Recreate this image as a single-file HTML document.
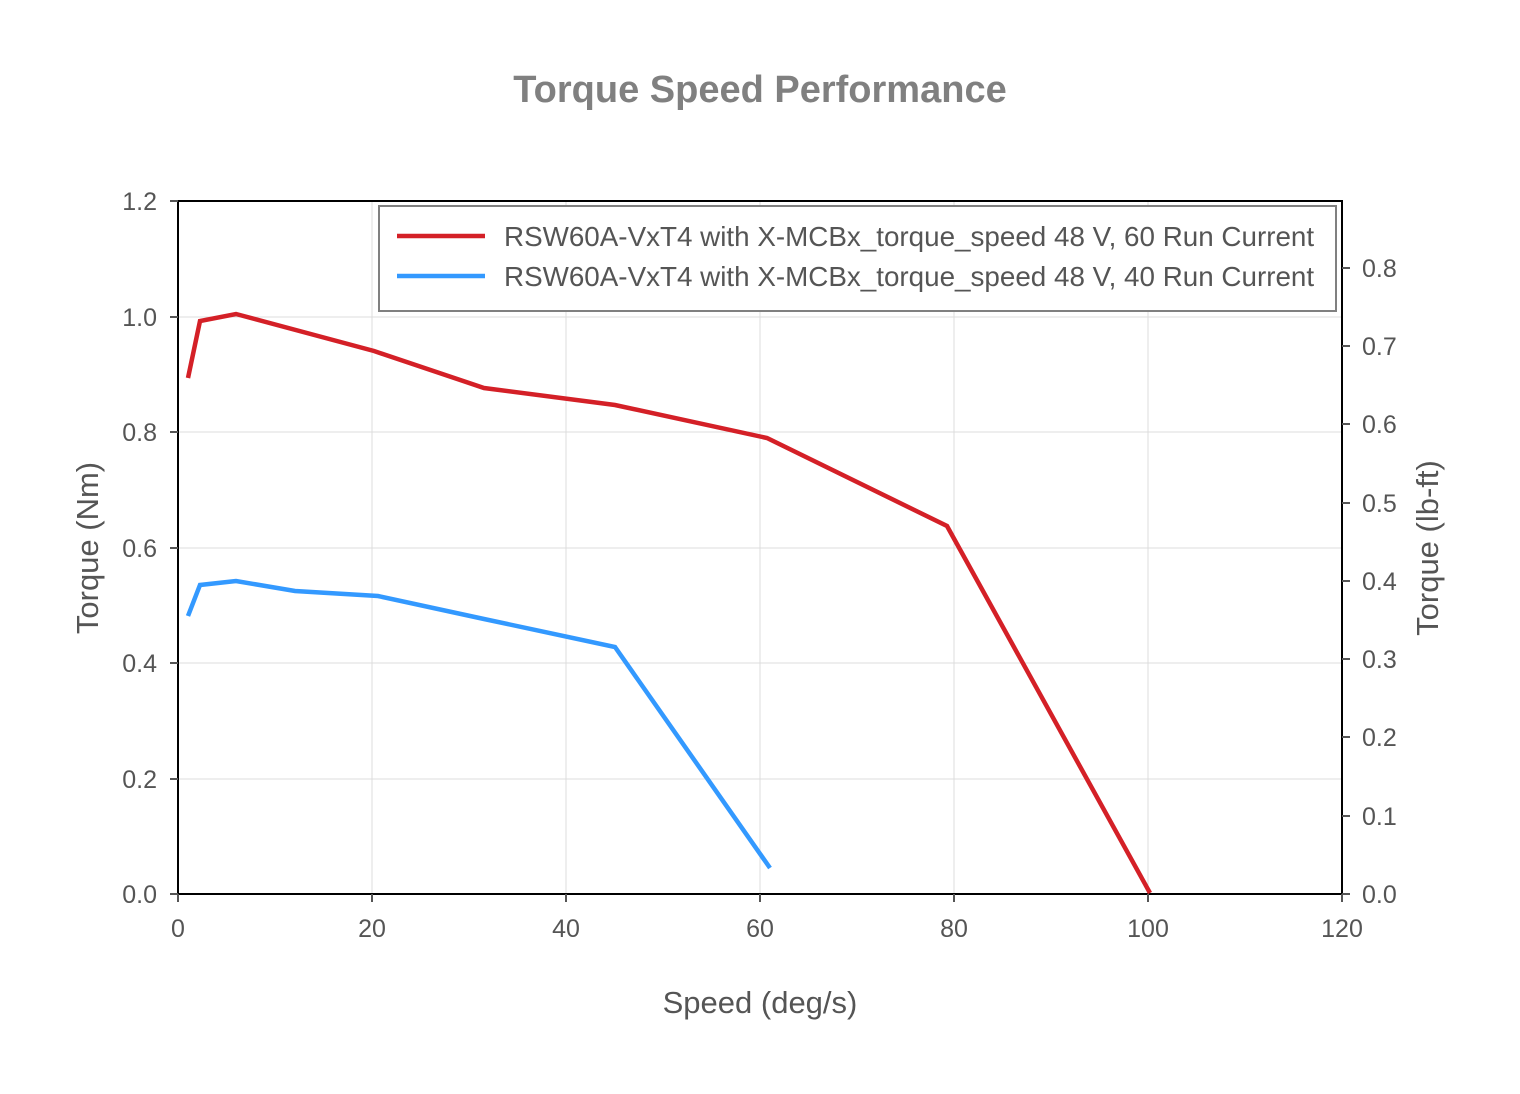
<!DOCTYPE html><html><head><style>body{margin:0;background:#fff}svg{display:block}</style></head><body>
<svg width="1520" height="1094" xmlns="http://www.w3.org/2000/svg" font-family="Liberation Sans, Arial, sans-serif">
<rect width="1520" height="1094" fill="#fff"/>
<text x="760" y="102" text-anchor="middle" font-size="38" font-weight="bold" fill="#808080">Torque Speed Performance</text>
<g stroke="#dcdcdc" stroke-width="1">
<line x1="372" y1="201" x2="372" y2="894"/><line x1="566" y1="201" x2="566" y2="894"/><line x1="760" y1="201" x2="760" y2="894"/><line x1="954" y1="201" x2="954" y2="894"/><line x1="1148" y1="201" x2="1148" y2="894"/>
<line x1="178" y1="779" x2="1342" y2="779"/><line x1="178" y1="663" x2="1342" y2="663"/><line x1="178" y1="548" x2="1342" y2="548"/><line x1="178" y1="432" x2="1342" y2="432"/><line x1="178" y1="317" x2="1342" y2="317"/>
</g>
<g stroke="#000" stroke-width="2" fill="none">
<line x1="178" y1="201" x2="1342" y2="201"/><line x1="178" y1="200" x2="178" y2="895"/><line x1="1342" y1="200" x2="1342" y2="895"/><line x1="177" y1="894" x2="1343" y2="894"/>
</g>
<g stroke="#555" stroke-width="2">
<line x1="170" y1="894" x2="178" y2="894"/><line x1="170" y1="779" x2="178" y2="779"/><line x1="170" y1="663" x2="178" y2="663"/><line x1="170" y1="548" x2="178" y2="548"/><line x1="170" y1="432" x2="178" y2="432"/><line x1="170" y1="317" x2="178" y2="317"/><line x1="170" y1="201" x2="178" y2="201"/>
<line x1="178" y1="894" x2="178" y2="902"/><line x1="372" y1="894" x2="372" y2="902"/><line x1="566" y1="894" x2="566" y2="902"/><line x1="760" y1="894" x2="760" y2="902"/><line x1="954" y1="894" x2="954" y2="902"/><line x1="1148" y1="894" x2="1148" y2="902"/><line x1="1342" y1="894" x2="1342" y2="902"/>
<line x1="1342" y1="894" x2="1350" y2="894"/><line x1="1342" y1="816" x2="1350" y2="816"/><line x1="1342" y1="737" x2="1350" y2="737"/><line x1="1342" y1="659" x2="1350" y2="659"/><line x1="1342" y1="581" x2="1350" y2="581"/><line x1="1342" y1="503" x2="1350" y2="503"/><line x1="1342" y1="424" x2="1350" y2="424"/><line x1="1342" y1="346" x2="1350" y2="346"/><line x1="1342" y1="268" x2="1350" y2="268"/>
</g>
<g font-size="25" fill="#555" text-anchor="end">
<text x="157" y="903">0.0</text><text x="157" y="788">0.2</text><text x="157" y="672">0.4</text><text x="157" y="557">0.6</text><text x="157" y="441">0.8</text><text x="157" y="326">1.0</text><text x="157" y="210">1.2</text>
</g>
<g font-size="25" fill="#555">
<text x="1362" y="903">0.0</text><text x="1362" y="825">0.1</text><text x="1362" y="746">0.2</text><text x="1362" y="668">0.3</text><text x="1362" y="590">0.4</text><text x="1362" y="512">0.5</text><text x="1362" y="433">0.6</text><text x="1362" y="355">0.7</text><text x="1362" y="277">0.8</text>
</g>
<g font-size="25" fill="#555" text-anchor="middle">
<text x="178" y="937">0</text><text x="372" y="937">20</text><text x="566" y="937">40</text><text x="760" y="937">60</text><text x="954" y="937">80</text><text x="1148" y="937">100</text><text x="1342" y="937">120</text>
<text x="760" y="1013" font-size="31">Speed (deg/s)</text>
<text transform="translate(98,548) rotate(-90)" font-size="31">Torque (Nm)</text>
<text transform="translate(1438,548) rotate(-90)" font-size="31">Torque (lb-ft)</text>
</g>
<polyline fill="none" stroke="#d42027" stroke-width="4.5" points="188,378 200,321 236,314 374,351 484,388 615,405 767,438 947,526 1150,893"/>
<polyline fill="none" stroke="#3399ff" stroke-width="4.5" points="188,616 200,585 236,581 295,591 378,596 484,619 615,647 770,868"/>
<rect x="379" y="206" width="957" height="105" fill="#fff" stroke="#808080" stroke-width="2"/>
<line x1="397" y1="236" x2="485" y2="236" stroke="#d42027" stroke-width="4.5"/>
<line x1="397" y1="276" x2="485" y2="276" stroke="#3399ff" stroke-width="4.5"/>
<text x="504" y="246" font-size="27.8" fill="#555">RSW60A-VxT4 with X-MCBx_torque_speed 48 V, 60 Run Current</text>
<text x="504" y="286" font-size="27.8" fill="#555">RSW60A-VxT4 with X-MCBx_torque_speed 48 V, 40 Run Current</text>
</svg></body></html>
